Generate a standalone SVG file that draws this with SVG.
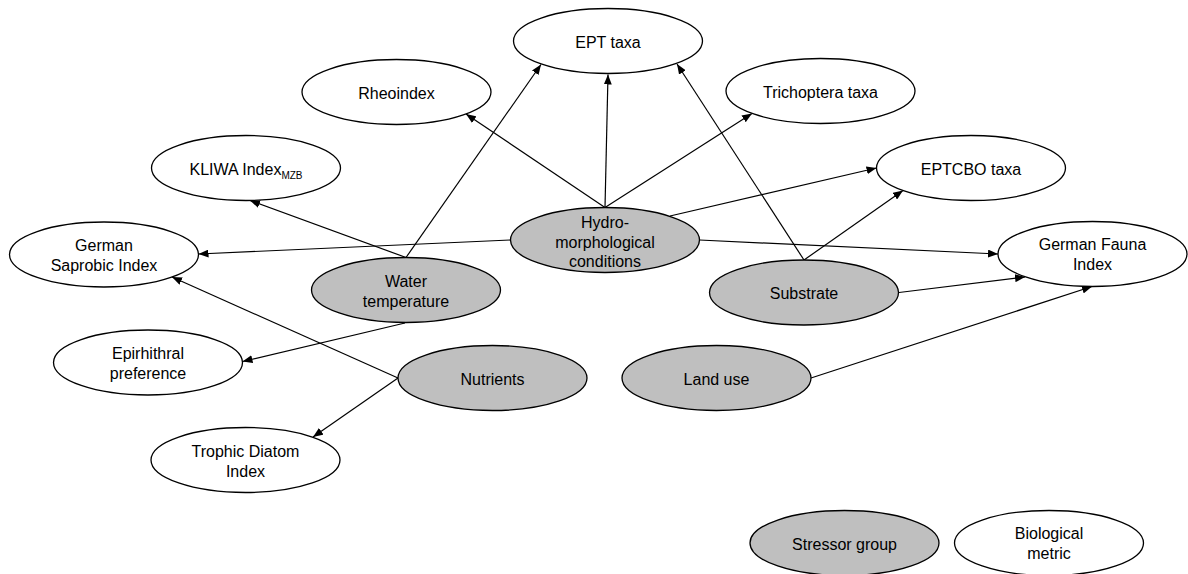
<svg xmlns="http://www.w3.org/2000/svg" width="1188" height="574" viewBox="0 0 1188 574">
<defs>
<style>
.n ellipse{stroke:#000;stroke-width:1.3;}
.m ellipse{fill:#fff;}
.s ellipse{fill:#bfbfbf;}
text{font-family:"Liberation Sans",Arial,sans-serif;font-size:16px;fill:#000;text-anchor:middle;}
.sub{font-size:10px;}
#edges line{stroke:#000;stroke-width:1.2;marker-end:url(#ah);}
</style>
<marker id="ah" markerUnits="userSpaceOnUse" markerWidth="11" markerHeight="8" refX="10" refY="4" orient="auto">
<path d="M0,0 L10,4 L0,8 z" fill="#000"/>
</marker>
</defs>
<rect width="1188" height="574" fill="#fff"/>
<g id="edges">
<line x1="605" y1="207.5" x2="608" y2="74.5"/>
<line x1="605" y1="207.5" x2="466" y2="114"/>
<line x1="605" y1="207.5" x2="752" y2="113.5"/>
<line x1="670" y1="216" x2="876.5" y2="168"/>
<line x1="510.5" y1="240" x2="198.5" y2="254"/>
<line x1="699.5" y1="240" x2="998" y2="254"/>
<line x1="406" y1="257.5" x2="541" y2="64.5"/>
<line x1="406" y1="257.5" x2="250" y2="200.5"/>
<line x1="405" y1="323" x2="242.5" y2="361.5"/>
<line x1="804" y1="260" x2="677" y2="64"/>
<line x1="804" y1="260" x2="903" y2="190.5"/>
<line x1="899" y1="292.5" x2="1025" y2="277"/>
<line x1="811" y1="378" x2="1092" y2="286.5"/>
<line x1="398" y1="378" x2="172" y2="277"/>
<line x1="398" y1="378" x2="313" y2="437"/>
</g>
<g id="ept" class="n m"><ellipse cx="608" cy="41" rx="94.5" ry="32.5"/><text x="608" y="48">EPT taxa</text></g>
<g id="rheoindex" class="n m"><ellipse cx="396.5" cy="92" rx="94.5" ry="32.5"/><text x="396.5" y="99">Rheoindex</text></g>
<g id="trichoptera" class="n m"><ellipse cx="820.5" cy="91" rx="94.5" ry="32.5"/><text x="820.5" y="98">Trichoptera taxa</text></g>
<g id="kliwa" class="n m"><ellipse cx="246" cy="168" rx="94.5" ry="32.5"/><text x="246" y="175">KLIWA Index<tspan class="sub" dy="4">MZB</tspan></text></g>
<g id="eptcbo" class="n m"><ellipse cx="971" cy="168" rx="94.5" ry="32.5"/><text x="971" y="175">EPTCBO taxa</text></g>
<g id="hydro" class="n s"><ellipse cx="605" cy="240" rx="94.5" ry="32.5"/><text x="605" y="228">Hydro-</text><text x="605" y="248">morphological</text><text x="605" y="267">conditions</text></g>
<g id="saprobic" class="n m"><ellipse cx="104" cy="254.5" rx="94.5" ry="32.5"/><text x="104" y="251">German</text><text x="104" y="271">Saprobic Index</text></g>
<g id="fauna" class="n m"><ellipse cx="1092.5" cy="254" rx="94.5" ry="32.5"/><text x="1092.5" y="250">German Fauna</text><text x="1092.5" y="270">Index</text></g>
<g id="water" class="n s"><ellipse cx="406" cy="290" rx="94.5" ry="32.5"/><text x="406" y="287">Water</text><text x="406" y="307">temperature</text></g>
<g id="substrate" class="n s"><ellipse cx="804" cy="292.5" rx="94.5" ry="32.5"/><text x="804" y="299">Substrate</text></g>
<g id="epirhithral" class="n m"><ellipse cx="148" cy="362.5" rx="94.5" ry="32.5"/><text x="148" y="359">Epirhithral</text><text x="148" y="379">preference</text></g>
<g id="nutrients" class="n s"><ellipse cx="492.5" cy="378" rx="94.5" ry="32.5"/><text x="492.5" y="385">Nutrients</text></g>
<g id="landuse" class="n s"><ellipse cx="716.5" cy="378" rx="94.5" ry="32.5"/><text x="716.5" y="385">Land use</text></g>
<g id="trophic" class="n m"><ellipse cx="245.5" cy="460" rx="94.5" ry="32.5"/><text x="245.5" y="457">Trophic Diatom</text><text x="245.5" y="477">Index</text></g>
<g id="legend-stressor" class="n s"><ellipse cx="844.5" cy="543" rx="94.5" ry="32.5"/><text x="844.5" y="550">Stressor group</text></g>
<g id="legend-metric" class="n m"><ellipse cx="1049" cy="543" rx="94.5" ry="32.5"/><text x="1049" y="539">Biological</text><text x="1049" y="559">metric</text></g>
</svg>
